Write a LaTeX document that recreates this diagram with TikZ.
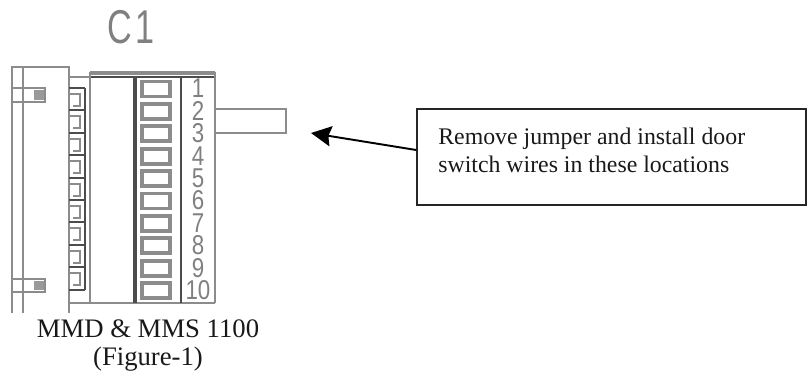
\documentclass[tikz,border=0pt]{standalone}
\usepackage{fontspec}
\setmainfont{Liberation Serif}
\setsansfont{Liberation Sans}
\usetikzlibrary{arrows.meta}
\usetikzlibrary{positioning}

\tikzset{
  cadline/.style={draw=black!45, line width=1.2pt},
  darkline/.style={draw=black!70, line width=1.2pt},
  thickbar/.style={draw=black!70, line width=2.2pt},
  digit/.style={text=black!50, font=\sffamily\fontsize{15.5}{15.5}\selectfont, xscale=0.82, inner sep=0pt},
  notebox/.style={draw=black!85, line width=0.9pt, minimum width=7.78cm, minimum height=1.92cm, inner sep=0pt},
  notetext/.style={font=\fontsize{13.55}{15.8}\selectfont, align=left, inner sep=0pt, text=black!90},
  captiontext/.style={font=\fontsize{15.2}{16.2}\selectfont, align=center, inner sep=0pt, text=black!90},
  pointer/.style={-{Stealth[length=11.5pt,width=11.5pt,inset=1.5pt]}, draw=black, line width=1.1pt}
}

\begin{document}
\begin{tikzpicture}[x=0.02cm, y=-0.02cm]
            \useasboundingbox (0,0) rectangle (807,373);
            % label on top
            \draw (131,27) node[text=black!50, font=\sffamily\fontsize{27}{27}\selectfont, xscale=0.72, inner sep=0pt] (conn) {C\kern2pt 1};
            % left clip
            \draw[cadline] (12,313) -- (12,67) -- (69,67) -- (69,313);
            \draw[cadline] (23,67) -- (23,313);
            \draw[cadline] (12,88) -- (45,88) -- (45,102) -- (12,102);
            \draw[cadline] (12,279) -- (45,279) -- (45,292) -- (12,292);
            \fill[black!40] (34,90) rectangle (44,100);
            \fill[black!40] (34,281) rectangle (44,290);
            % terminal teeth
            \draw[cadline] (69,77) -- (90,77);
            \draw[darkline] (85,88) -- (85,290);
            \foreach \i in {0,...,8} {
              \pgfmathsetmacro{\ty}{88+22.4*\i}
              \draw[darkline] (69,\ty) -- (85,\ty);
              \draw[cadline] (69,\ty+6) -- (80,\ty+6) -- (80,\ty+18) -- (73,\ty+18);
            }
            \draw[darkline] (69,290) -- (85,290);
            % body
            \draw[thickbar, draw=black!45] (90,73) -- (215,73);
            \draw[darkline] (90,77) -- (215,77);
            \draw[cadline] (90,72) -- (90,303);
            \draw[cadline] (69,303) -- (215,303);
            \draw[cadline] (215,72) -- (215,303);
            \draw[thickbar] (135,77) -- (135,303);
            \draw[darkline] (181,77) -- (181,303);
            % switch cells and numbers
            \foreach \i [evaluate=\i as \n using int(\i+1)] in {0,...,9} {
              \pgfmathsetmacro{\cy}{81.5+22.4*\i}
              \draw[cadline, line width=2.2pt] (142,\cy) rectangle (170,\cy+15);
              \draw (198,\cy+7) node[digit] (num\n) {\n};
            }
            % jumper
            \draw[cadline] (215,109) -- (286,109) -- (286,133) -- (215,133);
            % note with arrow
            \draw (611.5,157) node[notebox] (note) {};
            \draw (438,128) node[notetext, anchor=north west] (notetxt) {Remove jumper and install door\\switch wires in these locations};
            \coordinate (tip) at (311,133);
            \draw[pointer] ([yshift=0.14cm]note.west) -- (tip);
            % caption
            \draw (148,319) node[captiontext, anchor=north] (cap) {MMD \& MMS 1100\\(Figure-1)};
\end{tikzpicture}
\end{document}
